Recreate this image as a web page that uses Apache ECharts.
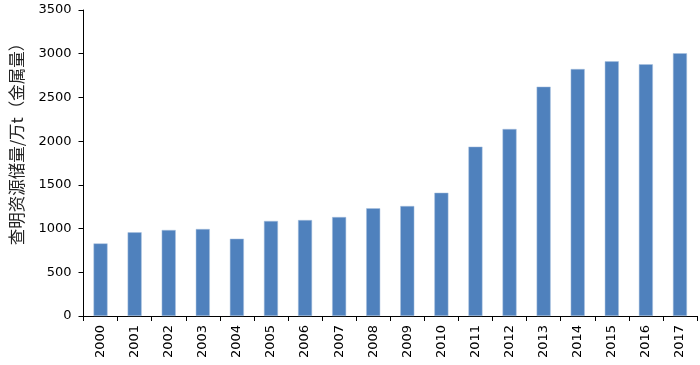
<!DOCTYPE html>
<html><head><meta charset="utf-8">
<script src="https://cdn.jsdelivr.net/npm/echarts@6/dist/echarts.min.js"></script>
<style>html,body{margin:0;padding:0;background:#fff}#c{width:700px;height:365px}</style>
</head><body><div id="c"></div>
<script>
const years = ['2000','2001','2002','2003','2004','2005','2006','2007','2008','2009','2010','2011','2012','2013','2014','2015','2016','2017'];
const reserves = [830, 957, 984, 995, 884, 1087, 1098, 1132, 1232, 1258, 1410, 1937, 2139, 2623, 2825, 2913, 2879, 3005];
const yTitle = '查明资源储量/万t（金属量）';
const chart = echarts.init(document.getElementById('c'));
chart.setOption({
  animation: false,
  backgroundColor: '#fff',
  grid: {left: 79, right: 3, top: 10, bottom: 49, containLabel: false},
  xAxis: {
    type: 'category', data: years,
    axisLine: {lineStyle: {color: '#000', width: 1}},
    axisTick: {show: true, length: 5, lineStyle: {color: '#000'}},
    axisLabel: {rotate: 90, margin: 9, color: '#000', fontSize: 13, fontFamily: 'DejaVu Sans'}
  },
  yAxis: {
    type: 'value', min: 0, max: 3500, interval: 500,
    name: yTitle, nameLocation: 'middle', nameGap: 59, nameRotate: 90,
    nameTextStyle: {color: '#222', fontSize: 16.5, fontFamily: 'Noto Sans CJK SC', padding: [0,0,0,46]},
    axisLine: {show: true, lineStyle: {color: '#000', width: 1}},
    axisTick: {show: true, length: 5, lineStyle: {color: '#000'}},
    splitLine: {show: false},
    axisLabel: {margin: 12, color: '#000', fontSize: 13, fontFamily: 'DejaVu Sans', formatter: v => String(v)}
  },
  series: [{
    type: 'bar', data: reserves, barWidth: 14,
    itemStyle: {color: '#4f81bd', borderColor: '#a9c0de', borderWidth: 0.5}
  }]
});
</script></body></html>
